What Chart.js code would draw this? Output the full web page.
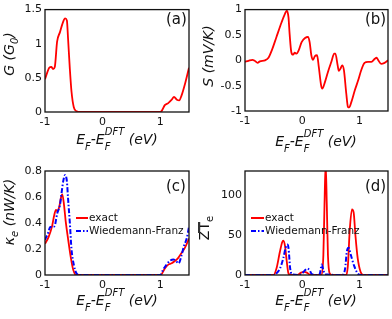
<!DOCTYPE html>
<html>
<head>
<meta charset="utf-8">
<script src="https://cdn.jsdelivr.net/npm/chart.js@4.4.1/dist/chart.umd.min.js"></script>
<style>
  body { margin: 0; background: #fff; }
  #wrap { position: relative; width: 392px; height: 319px; overflow: hidden; font-family: 'DejaVu Sans', sans-serif; color: #111; }
  canvas { position: absolute; }
  .xt { position: absolute; transform: translateX(-50%); font: italic 14px 'DejaVu Sans'; line-height: 14px; white-space: nowrap; }
  .yt { position: absolute; transform: translate(-50%, -50%) rotate(-90deg); font: italic 14px 'DejaVu Sans'; line-height: 14px; white-space: nowrap; }
  .lo { font-size: 10px; position: relative; top: 6px; }
  .hi { font-size: 10px; position: relative; top: -9px; margin-left: -5.8px; }
  .sb { font-size: 10px; position: relative; top: 4px; }
  .tag { position: absolute; font: 15px 'DejaVu Sans'; line-height: 15px; }
  .leg { position: absolute; font: 10.5px 'DejaVu Sans'; }
  .leg div { height: 13px; line-height: 13px; white-space: nowrap; }
  .leg svg { vertical-align: middle; margin-right: 1px; }
</style>
</head>
<body>
<div id="wrap">
  <canvas id="ca" width="196" height="130" style="left:0;top:0"></canvas>
  <canvas id="cb" width="196" height="130" style="left:196px;top:0"></canvas>
  <canvas id="cc" width="196" height="140" style="left:0;top:155px"></canvas>
  <canvas id="cd" width="196" height="140" style="left:196px;top:155px"></canvas>

  <div class="xt" style="left:117px;top:132px">E<span class="lo">F</span>-E<span class="lo">F</span><span class="hi">DFT</span> (eV)</div>
  <div class="xt" style="left:316px;top:134px">E<span class="lo">F</span>-E<span class="lo">F</span><span class="hi">DFT</span> (eV)</div>
  <div class="xt" style="left:117px;top:293px">E<span class="lo">F</span>-E<span class="lo">F</span><span class="hi">DFT</span> (eV)</div>
  <div class="xt" style="left:316px;top:293px">E<span class="lo">F</span>-E<span class="lo">F</span><span class="hi">DFT</span> (eV)</div>

  <div class="yt" style="left:10px;top:54px">G (G<span class="sb">0</span>)</div>
  <div class="yt" style="left:208px;top:56px">S (mV/K)</div>
  <div class="yt" style="left:10px;top:212px">&kappa;<span class="sb">e</span> (nW/K)</div>
  <div class="yt" style="left:205px;top:228px;font-style:normal">ZT<span class="sb">e</span></div>

  <div class="tag" style="left:166px;top:12px">(a)</div>
  <div class="tag" style="left:365px;top:12px">(b)</div>
  <div class="tag" style="left:166px;top:179px">(c)</div>
  <div class="tag" style="left:365px;top:179px">(d)</div>

  <div class="leg" style="left:76px;top:211px">
    <div><svg width="12" height="4"><line x1="0" y1="2" x2="12" y2="2" stroke="#f00" stroke-width="2"/></svg>exact</div>
    <div><svg width="12" height="4"><line x1="0" y1="2" x2="12" y2="2" stroke="#0000ff" stroke-width="2" stroke-dasharray="5 2 1.5 2"/></svg>Wiedemann-Franz</div>
  </div>
  <div class="leg" style="left:251px;top:211px">
    <div><svg width="13" height="4"><line x1="0" y1="2" x2="13" y2="2" stroke="#f00" stroke-width="2"/></svg>exact</div>
    <div><svg width="13" height="4"><line x1="0" y1="2" x2="13" y2="2" stroke="#0000ff" stroke-width="2" stroke-dasharray="5 2 1.5 2"/></svg>Wiedemann-Franz</div>
  </div>

  <div style="position:absolute;left:198px;top:222px;width:2px;height:11px;background:#333"></div>
</div>

<script>
// x ticks shared by all panels
const xTicks = [-1, 0, 1];

// (a) conductance G (G0)
const gE   = [-1, -0.96, -0.925, -0.89, -0.86, -0.83, -0.79, -0.74, -0.69, -0.65, -0.62, -0.6, -0.57, -0.54, -0.5, -0.45, -0.4, 0.95, 1.0, 1.03, 1.08, 1.14, 1.2, 1.24, 1.29, 1.33, 1.37, 1.43, 1.5];
const gVal = [0.48, 0.58, 0.65, 0.66, 0.63, 0.66, 1.03, 1.17, 1.31, 1.37, 1.34, 1.08, 0.65, 0.3, 0.07, 0.01, 0, 0, 0, 0.02, 0.1, 0.13, 0.18, 0.22, 0.18, 0.17, 0.24, 0.41, 0.65];
const gTicks = [0, 0.5, 1, 1.5];

// (b) thermopower S (mV/K)
const sE   = [-1, -0.94, -0.87, -0.83, -0.78, -0.74, -0.65, -0.59, -0.53, -0.45, -0.36, -0.3, -0.27, -0.24, -0.22, -0.19, -0.16, -0.13, -0.1, -0.06, -0.01, 0.05, 0.1, 0.13, 0.16, 0.19, 0.22, 0.26, 0.29, 0.33, 0.35, 0.4, 0.45, 0.51, 0.56, 0.58, 0.62, 0.64, 0.67, 0.7, 0.73, 0.77, 0.8, 0.82, 0.86, 0.92, 0.98, 1.03, 1.09, 1.15, 1.21, 1.27, 1.3, 1.33, 1.38, 1.44, 1.5];
const sVal = [-0.03, -0.01, 0.01, -0.01, -0.05, -0.02, 0, 0.05, 0.2, 0.46, 0.75, 0.92, 0.98, 0.85, 0.52, 0.16, 0.11, 0.15, 0.13, 0.2, 0.36, 0.44, 0.46, 0.36, 0.1, 0.01, 0.08, 0.1, -0.13, -0.49, -0.56, -0.42, -0.23, -0.03, 0.13, 0.13, -0.1, -0.21, -0.16, -0.1, -0.2, -0.65, -0.92, -0.93, -0.82, -0.59, -0.39, -0.2, -0.05, -0.03, -0.03, 0.03, 0.05, 0, -0.07, -0.05, 0];
const sTicks = [-1, -0.5, 0, 0.5, 1];

// (c) electronic thermal conductance (nW/K)
const kE    = [-1, -0.94, -0.88, -0.84, -0.81, -0.78, -0.75, -0.72, -0.7, -0.67, -0.64, -0.6, -0.55, -0.51, -0.46, -0.4, 1.0, 1.03, 1.08, 1.14, 1.2, 1.26, 1.31, 1.37, 1.43, 1.5];
const kVal  = [0.24, 0.29, 0.37, 0.46, 0.5, 0.49, 0.53, 0.6, 0.62, 0.54, 0.41, 0.28, 0.13, 0.04, 0, 0, 0, 0.01, 0.05, 0.08, 0.09, 0.11, 0.13, 0.17, 0.21, 0.28];
const kwE   = [-1, -0.94, -0.91, -0.86, -0.83, -0.79, -0.74, -0.71, -0.68, -0.65, -0.62, -0.6, -0.57, -0.54, -0.5, -0.45, -0.4, 1.0, 1.05, 1.11, 1.17, 1.23, 1.27, 1.32, 1.37, 1.41, 1.46, 1.5];
const kwVal = [0.27, 0.33, 0.37, 0.37, 0.38, 0.47, 0.54, 0.64, 0.73, 0.77, 0.72, 0.59, 0.41, 0.2, 0.08, 0.01, 0, 0, 0.04, 0.08, 0.11, 0.12, 0.11, 0.09, 0.15, 0.22, 0.28, 0.37];
const kTicks = [0, 0.2, 0.4, 0.6, 0.8];

// (d) figure of merit ZTe
const zE    = [-1, -0.5, -0.45, -0.39, -0.35, -0.33, -0.3, -0.27, -0.24, -0.2, -0.09, -0.06, -0.02, 0.04, 0.08, 0.12, 0.16, 0.34, 0.37, 0.39, 0.41, 0.43, 0.45, 0.48, 0.52, 0.77, 0.8, 0.83, 0.87, 0.9, 0.93, 0.97, 1.02, 1.07, 1.5];
const zVal  = [0, 0, 8, 29, 41, 43, 36, 17, 2, 0, 0, 1, 3, 4, 3, 1, 0, 0, 25, 88, 140, 88, 25, 2, 0, 0, 13, 55, 82, 78, 50, 21, 4, 0, 0];
const zwE   = [-1, -0.5, -0.45, -0.39, -0.33, -0.29, -0.26, -0.24, -0.21, -0.18, -0.05, 0, 0.05, 0.09, 0.13, 0.17, 0.28, 0.31, 0.33, 0.34, 0.37, 0.4, 0.7, 0.72, 0.75, 0.78, 0.81, 0.85, 0.91, 0.97, 1.02, 1.5];
const zwVal = [0, 0, 2, 8, 21, 34, 38, 34, 8, 1, 0, 2, 6, 8, 6, 1, 0, 2, 10, 13, 6, 1, 0, 1, 8, 29, 34, 25, 11, 2, 0, 0];
const zTicks = [0, 50, 100];

Chart.defaults.font.family = "'DejaVu Sans', sans-serif";
Chart.defaults.font.size = 11;
Chart.defaults.color = '#111';

const pts = (xs, ys) => xs.map((x, i) => ({ x: x, y: ys[i] }));

// box around the plot area
const frame = {
  id: 'frame',
  afterDraw(chart) {
    const { ctx, chartArea: a } = chart;
    ctx.save();
    ctx.strokeStyle = '#111';
    ctx.lineWidth = 1.3;
    ctx.strokeRect(a.left, a.top, a.right - a.left, a.bottom - a.top);
    ctx.restore();
  }
};

function red(xs, ys) {
  return { data: pts(xs, ys), borderColor: '#ff0000', borderWidth: 1.8, order: 1 };
}
function blue(xs, ys) {
  return { data: pts(xs, ys), borderColor: '#0000ff', borderWidth: 2, borderDash: [5, 2, 1.5, 2], order: 0 };
}

function panel(id, o) {
  return new Chart(document.getElementById(id), {
    type: 'line',
    data: { datasets: o.sets },
    options: {
      responsive: false,
      animation: false,
      layout: { padding: o.pad },
      plugins: { legend: { display: false }, tooltip: { enabled: false } },
      elements: { point: { radius: 0 }, line: { cubicInterpolationMode: 'monotone' } },
      scales: {
        x: {
          type: 'linear', min: -1, max: 1.5,
          grid: { display: false, drawTicks: false },
          border: { display: false },
          ticks: { padding: 4, callback: v => String(v) },
          afterBuildTicks: s => { s.ticks = xTicks.map(v => ({ value: v })); },
          afterFit: s => { s.height = o.xh; }
        },
        y: {
          type: 'linear', min: o.min, max: o.max,
          grid: { display: false, drawTicks: false },
          border: { display: false },
          ticks: { padding: 3, callback: v => String(v) },
          afterBuildTicks: s => { s.ticks = o.ticks.map(v => ({ value: v })); },
          afterFit: s => { s.width = o.yw; }
        }
      }
    },
    plugins: [frame]
  });
}

panel('ca', { sets: [red(gE, gVal)], min: 0, max: 1.5, ticks: gTicks, yw: 45, xh: 18, pad: { top: 7, right: 7, left: 0, bottom: 0 } });
panel('cb', { sets: [red(sE, sVal)], min: -1, max: 1, ticks: sTicks, yw: 49, xh: 19, pad: { top: 8, right: 4, left: 0, bottom: 0 } });
panel('cc', { sets: [red(kE, kVal), blue(kwE, kwVal)], min: 0, max: 0.8, ticks: kTicks, yw: 45, xh: 20, pad: { top: 16, right: 7, left: 0, bottom: 0 } });
panel('cd', { sets: [red(zE, zVal), blue(zwE, zwVal)], min: 0, max: 130, ticks: zTicks, yw: 49, xh: 20, pad: { top: 16, right: 4, left: 0, bottom: 0 } });
</script>
</body>
</html>
